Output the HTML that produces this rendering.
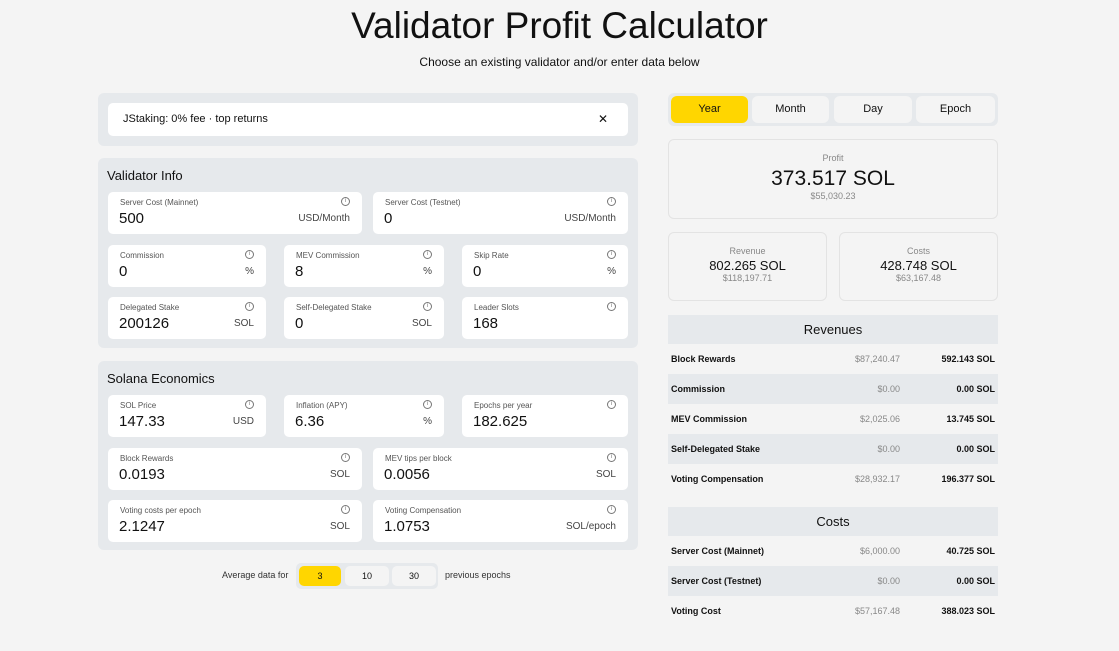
<!DOCTYPE html>
<html><head><meta charset="utf-8"><style>
*{margin:0;padding:0;box-sizing:border-box}
body{width:1119px;height:651px;background:#f4f4f4;font-family:"Liberation Sans",sans-serif;color:#111;position:relative;overflow:hidden}
.a{position:absolute}
.p{position:absolute;background:#e6e9ec;border-radius:6px}
.f{position:absolute;background:#fff;border-radius:5px;height:42px}
.f .l{position:absolute;left:12px;top:6px;font-size:8px;color:#555}
.f .v{position:absolute;left:11px;top:18px;font-size:15px;color:#111}
.f .u{position:absolute;right:12px;top:21px;font-size:10px;color:#444}
.f .i{position:absolute;right:12px;top:5px;width:9px;height:9px;border:1px solid #777;border-radius:50%;font-size:6px;line-height:7px;text-align:center;color:#777}
.h{position:absolute;left:9px;font-size:13px;color:#111}
.tab{position:absolute;top:96px;height:27px;border-radius:6px;background:#f4f4f4;font-size:11px;text-align:center;line-height:27px}
.box{position:absolute;border:1px solid #e3e3e3;border-radius:6px;text-align:center}
.row{position:absolute;left:668px;width:330px;height:30px;font-size:9px;font-weight:bold}
.row .n{position:absolute;left:3px;top:10px}
.row .d{position:absolute;right:98px;top:10px;color:#888;font-weight:normal}
.row .s{position:absolute;right:3px;top:10px}
.g{background:#e6e9ec}
.th{position:absolute;left:668px;width:330px;height:29px;background:#e6e9ec;text-align:center;line-height:29px;font-size:13px}
</style></head><body>
<div class="a" style="left:0;width:1119px;top:5px;text-align:center;font-size:37px;color:#111">Validator Profit Calculator</div>
<div class="a" style="left:0;width:1119px;top:55px;text-align:center;font-size:12px">Choose an existing validator and/or enter data below</div>

<div class="p" style="left:98px;top:93px;width:540px;height:53px"></div>
<div class="a" style="left:108px;top:103px;width:520px;height:33px;background:#fff;border-radius:5px;font-size:11px;line-height:33px;padding-left:15px">JStaking: 0% fee · top returns<span style="position:absolute;right:20px;font-size:12px">✕</span></div>

<div class="p" style="left:98px;top:158px;width:540px;height:190px"><div class="h" style="top:10px">Validator Info</div></div>
<div class="f" style="left:108px;top:192px;width:254px"><div class="l">Server Cost (Mainnet)</div><div class="v">500</div><div class="u">USD/Month</div><div class="i">i</div></div>
<div class="f" style="left:373px;top:192px;width:255px"><div class="l">Server Cost (Testnet)</div><div class="v">0</div><div class="u">USD/Month</div><div class="i">i</div></div>
<div class="f" style="left:108px;top:245px;width:158px"><div class="l">Commission</div><div class="v">0</div><div class="u">%</div><div class="i">i</div></div>
<div class="f" style="left:284px;top:245px;width:160px"><div class="l">MEV Commission</div><div class="v">8</div><div class="u">%</div><div class="i">i</div></div>
<div class="f" style="left:462px;top:245px;width:166px"><div class="l">Skip Rate</div><div class="v">0</div><div class="u">%</div><div class="i">i</div></div>
<div class="f" style="left:108px;top:297px;width:158px"><div class="l">Delegated Stake</div><div class="v">200126</div><div class="u">SOL</div><div class="i">i</div></div>
<div class="f" style="left:284px;top:297px;width:160px"><div class="l">Self-Delegated Stake</div><div class="v">0</div><div class="u">SOL</div><div class="i">i</div></div>
<div class="f" style="left:462px;top:297px;width:166px"><div class="l">Leader Slots</div><div class="v">168</div><div class="i">i</div></div>

<div class="p" style="left:98px;top:361px;width:540px;height:189px"><div class="h" style="top:10px">Solana Economics</div></div>
<div class="f" style="left:108px;top:395px;width:158px"><div class="l">SOL Price</div><div class="v">147.33</div><div class="u">USD</div><div class="i">i</div></div>
<div class="f" style="left:284px;top:395px;width:160px"><div class="l">Inflation (APY)</div><div class="v">6.36</div><div class="u">%</div><div class="i">i</div></div>
<div class="f" style="left:462px;top:395px;width:166px"><div class="l">Epochs per year</div><div class="v">182.625</div><div class="i">i</div></div>
<div class="f" style="left:108px;top:448px;width:254px"><div class="l">Block Rewards</div><div class="v">0.0193</div><div class="u">SOL</div><div class="i">i</div></div>
<div class="f" style="left:373px;top:448px;width:255px"><div class="l">MEV tips per block</div><div class="v">0.0056</div><div class="u">SOL</div><div class="i">i</div></div>
<div class="f" style="left:108px;top:500px;width:254px"><div class="l">Voting costs per epoch</div><div class="v">2.1247</div><div class="u">SOL</div><div class="i">i</div></div>
<div class="f" style="left:373px;top:500px;width:255px"><div class="l">Voting Compensation</div><div class="v">1.0753</div><div class="u">SOL/epoch</div><div class="i">i</div></div>

<div class="a" style="left:222px;top:570px;font-size:9px;color:#333">Average data for</div>
<div class="a" style="left:296px;top:563px;width:142px;height:26px;background:#e6e9ec;border-radius:5px"></div>
<div class="a" style="left:299px;top:566px;width:42px;height:20px;background:#ffd600;border-radius:5px;font-size:9px;text-align:center;line-height:20px">3</div>
<div class="a" style="left:345px;top:566px;width:44px;height:20px;background:#f4f4f4;border-radius:5px;font-size:9px;text-align:center;line-height:20px">10</div>
<div class="a" style="left:392px;top:566px;width:44px;height:20px;background:#f4f4f4;border-radius:5px;font-size:9px;text-align:center;line-height:20px">30</div>
<div class="a" style="left:445px;top:570px;font-size:9px;color:#333">previous epochs</div>

<div class="a" style="left:668px;top:93px;width:330px;height:33px;background:#e6e9ec;border-radius:6px"></div>
<div class="tab" style="left:671px;width:77px;background:#ffd600">Year</div>
<div class="tab" style="left:752px;width:77px">Month</div>
<div class="tab" style="left:834px;width:78px">Day</div>
<div class="tab" style="left:916px;width:79px">Epoch</div>

<div class="box" style="left:668px;top:139px;width:330px;height:80px"><div style="font-size:9px;color:#888;margin-top:13px">Profit</div><div style="font-size:21px;margin-top:4px">373.517 SOL</div><div style="font-size:9px;color:#888">$55,030.23</div></div>
<div class="box" style="left:668px;top:232px;width:159px;height:69px"><div style="font-size:9px;color:#888;margin-top:13px">Revenue</div><div style="font-size:13px;margin-top:2px">802.265 SOL</div><div style="font-size:9px;color:#888">$118,197.71</div></div>
<div class="box" style="left:839px;top:232px;width:159px;height:69px"><div style="font-size:9px;color:#888;margin-top:13px">Costs</div><div style="font-size:13px;margin-top:2px">428.748 SOL</div><div style="font-size:9px;color:#888">$63,167.48</div></div>

<div class="th" style="top:315px">Revenues</div>
<div class="row" style="top:344px"><span class="n">Block Rewards</span><span class="d">$87,240.47</span><span class="s">592.143 SOL</span></div>
<div class="row g" style="top:374px"><span class="n">Commission</span><span class="d">$0.00</span><span class="s">0.00 SOL</span></div>
<div class="row" style="top:404px"><span class="n">MEV Commission</span><span class="d">$2,025.06</span><span class="s">13.745 SOL</span></div>
<div class="row g" style="top:434px"><span class="n">Self-Delegated Stake</span><span class="d">$0.00</span><span class="s">0.00 SOL</span></div>
<div class="row" style="top:464px"><span class="n">Voting Compensation</span><span class="d">$28,932.17</span><span class="s">196.377 SOL</span></div>
<div class="th" style="top:507px">Costs</div>
<div class="row" style="top:536px"><span class="n">Server Cost (Mainnet)</span><span class="d">$6,000.00</span><span class="s">40.725 SOL</span></div>
<div class="row g" style="top:566px"><span class="n">Server Cost (Testnet)</span><span class="d">$0.00</span><span class="s">0.00 SOL</span></div>
<div class="row" style="top:596px"><span class="n">Voting Cost</span><span class="d">$57,167.48</span><span class="s">388.023 SOL</span></div>
</body></html>
